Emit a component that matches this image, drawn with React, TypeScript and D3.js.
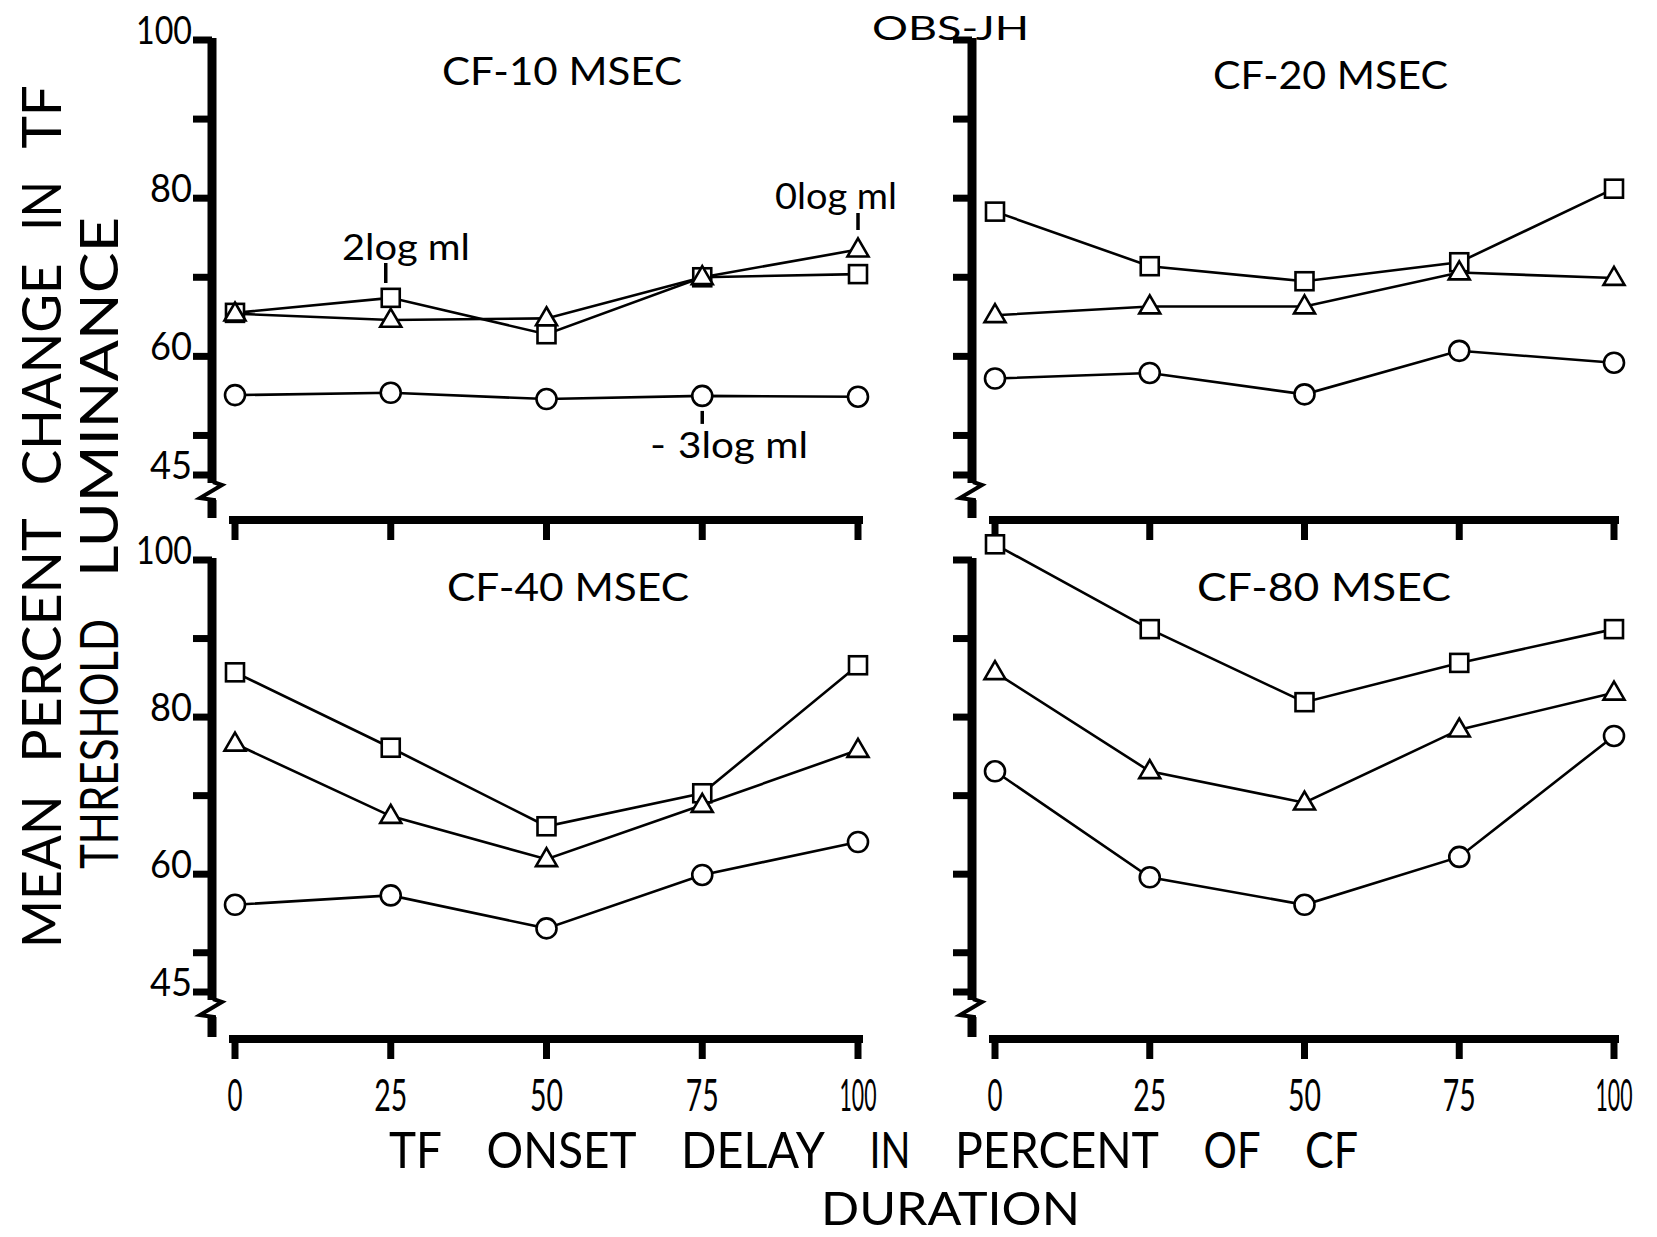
import React from "react";
import * as d3 from "d3";

// ---------- data ----------
const X_VALUES = [0, 25, 50, 75, 100];
const X_TICK_LABELS = ["0", "25", "50", "75", "100"];
const Y_TICKS = [100, 90, 80, 70, 60, 50, 45];
const Y_TICK_LABELS = [100, 80, 60, 45];
const PANEL_TITLES = ["CF-10 MSEC", "CF-20 MSEC", "CF-40 MSEC", "CF-80 MSEC"];
const X_TITLE_1 = ["TF", "ONSET", "DELAY", "IN", "PERCENT", "OF", "CF"];
const X_TITLE_2 = ["DURATION"];
const Y_TITLE_1 = ["MEAN", "PERCENT", "CHANGE", "IN", "TF"];
const Y_TITLE_2 = ["THRESHOLD", "LUMINANCE"];

// squares = 2 log ml, triangles = 0 log ml, circles = -3 log ml
const cf10Square = [65.5, 67.4, 62.8, 70.0, 70.4];
const cf10Triangle = [65.4, 64.6, 64.8, 70.0, 73.5];
const cf10Circle = [55.1, 55.4, 54.6, 55.0, 54.9];

const cf20Square = [78.3, 71.4, 69.5, 71.9, 81.2];
const cf20Triangle = [65.2, 66.3, 66.3, 70.6, 69.9];
const cf20Circle = [57.2, 57.9, 55.2, 60.7, 59.2];

const cf40Square = [85.7, 76.1, 66.1, 70.3, 86.6];
const cf40Triangle = [76.6, 67.4, 61.9, 68.8, 75.8];
const cf40Circle = [56.1, 57.3, 53.1, 59.9, 64.1];

const cf80Square = [102.0, 91.2, 81.9, 86.9, 91.2];
const cf80Triangle = [85.7, 73.1, 69.1, 78.4, 83.1];
const cf80Circle = [73.1, 59.6, 56.1, 62.2, 77.6];

const PANEL_DATA = [
  { square: cf10Square, triangle: cf10Triangle, circle: cf10Circle },
  { square: cf20Square, triangle: cf20Triangle, circle: cf20Circle },
  { square: cf40Square, triangle: cf40Triangle, circle: cf40Circle },
  { square: cf80Square, triangle: cf80Triangle, circle: cf80Circle },
];

// ---------- layout ----------
const W = 1657;
const H = 1237;
const FONT = "Lato, 'Open Sans', sans-serif";

type PanelGeom = {
  xRange: [number, number];
  yRange: [number, number];
  axisX: number;
  barY: number;
  title: { x: number; y: number; len: number };
  leftLabels: boolean;
  bottomLabels: boolean;
};

const GEOMS: PanelGeom[] = [
  { xRange: [235, 858], yRange: [475, 40], axisX: 212, barY: 520, title: { x: 442, y: 85, len: 240 }, leftLabels: true, bottomLabels: false },
  { xRange: [995, 1614], yRange: [475, 40], axisX: 972, barY: 520, title: { x: 1213, y: 89, len: 235 }, leftLabels: false, bottomLabels: false },
  { xRange: [235, 858], yRange: [992, 560], axisX: 212, barY: 1039, title: { x: 447, y: 601, len: 242 }, leftLabels: true, bottomLabels: true },
  { xRange: [995, 1614], yRange: [992, 560], axisX: 972, barY: 1039, title: { x: 1197, y: 601, len: 254 }, leftLabels: false, bottomLabels: true },
];

const LBL_W: Record<string, number> = { "100": 56, "80": 42, "60": 42, "45": 42 };
const XL_W: Record<string, number> = { "0": 15, "25": 33, "50": 33, "75": 33, "100": 37 };

// condensed letter width model (px at cap height ~37)
const LETTER_W: Record<string, number> = {
  M: 34, W: 34, O: 30, Q: 30, G: 28, N: 28, H: 28, D: 28, A: 28, U: 28, C: 26, R: 26, T: 26, Y: 26, V: 26,
  S: 24, P: 24, B: 24, E: 22, F: 22, L: 20, I: 8, J: 18, K: 26, X: 26, Z: 24,
};
const wordWidth = (w: string, k: number) =>
  k * (w.split("").reduce((s, c) => s + (LETTER_W[c] || 24), 0) + 5 * (w.length - 1));

// lay words out between start and end with equal gaps
function layoutWords(words: string[], start: number, end: number, k: number) {
  const ws = words.map((w) => wordWidth(w, k));
  const total = ws.reduce((a, b) => a + b, 0);
  const gap = words.length > 1 ? (end - start - total) / (words.length - 1) : 0;
  let pos = start;
  return words.map((w, i) => {
    const r = { word: w, pos, len: ws[i] };
    pos += ws[i] + gap;
    return r;
  });
}

function Panel({ idx }: { idx: number }) {
  const g = GEOMS[idx];
  const data = PANEL_DATA[idx];
  const x = d3.scaleLinear().domain([0, 100]).range(g.xRange);
  const y = d3.scaleLinear().domain([45, 100]).range(g.yRange);
  const line = d3
    .line<number>()
    .x((_, i) => x(X_VALUES[i]))
    .y((v) => y(v));

  const y45 = y(45);
  const ax = g.axisX;
  const axisTop = y(100) - 2;
  const zigTop = y45 + 8;
  const zigBot = y45 + 26;

  const sq = 18;
  const tri = (cx: number, cy: number) => {
    const s = 21;
    const h = 18;
    return `M${cx},${cy - h * 0.62} L${cx + s / 2},${cy + h * 0.38} L${cx - s / 2},${cy + h * 0.38} Z`;
  };

  return (
    <g>
      {/* y axis */}
      <line x1={ax} x2={ax} y1={axisTop} y2={zigTop} stroke="#000" strokeWidth={9} />
      <path
        d={`M${ax + 1},${zigTop - 1} L${ax + 10},${zigTop + 2} L${ax - 12},${zigTop + 15} L${ax + 2},${zigTop + 17} L${ax + 2},${zigBot}`}
        fill="none"
        stroke="#000"
        strokeWidth={4}
      />
      <line x1={ax} x2={ax} y1={zigBot - 1} y2={g.barY - 2} stroke="#000" strokeWidth={9} />
      {Y_TICKS.map((t) => (
        <line key={t} x1={ax - 19} x2={ax} y1={y(t)} y2={y(t)} stroke="#000" strokeWidth={7} />
      ))}
      {g.leftLabels &&
        Y_TICK_LABELS.map((t) => (
          <text
            key={t}
            x={ax - 20}
            y={y(t) + 4}
            textAnchor="end"
            fontFamily={FONT}
            fontSize={38}
            textLength={LBL_W[String(t)]}
            lengthAdjust="spacingAndGlyphs"
          >
            {t}
          </text>
        ))}

      {/* x axis bar */}
      <line x1={x(0) - 6} x2={x(100) + 5} y1={g.barY} y2={g.barY} stroke="#000" strokeWidth={8} />
      {X_VALUES.map((v) => (
        <line key={v} x1={x(v)} x2={x(v)} y1={g.barY} y2={g.barY + 20} stroke="#000" strokeWidth={7} />
      ))}
      {g.bottomLabels &&
        X_VALUES.map((v, i) => {
          const lab = X_TICK_LABELS[i];
          const natural = lab.length * 0.58 * 44;
          const sx = XL_W[lab] / natural;
          return (
            <text
              key={v}
              transform={`translate(${x(v)},${g.barY + 72}) scale(${sx},1)`}
              textAnchor="middle"
              fontFamily={FONT}
              fontSize={44}
            >
              {lab}
            </text>
          );
        })}

      {/* title */}
      <text
        x={g.title.x}
        y={g.title.y}
        fontFamily={FONT}
        fontSize={39}
        textLength={g.title.len}
        lengthAdjust="spacingAndGlyphs"
      >
        {PANEL_TITLES[idx]}
      </text>

      {/* lines */}
      {[data.square, data.triangle, data.circle].map((s, k) => (
        <path key={k} d={line(s) || ""} fill="none" stroke="#000" strokeWidth={2.6} />
      ))}

      {/* markers */}
      {data.circle.map((v, i) => (
        <circle key={"c" + i} cx={x(X_VALUES[i])} cy={y(v)} r={10} fill="#fff" stroke="#000" strokeWidth={2.6} />
      ))}
      {data.square.map((v, i) => (
        <rect
          key={"s" + i}
          x={x(X_VALUES[i]) - sq / 2}
          y={y(v) - sq / 2}
          width={sq}
          height={sq}
          fill="#fff"
          stroke="#000"
          strokeWidth={2.6}
        />
      ))}
      {data.triangle.map((v, i) => (
        <path key={"t" + i} d={tri(x(X_VALUES[i]), y(v))} fill="#fff" stroke="#000" strokeWidth={2.6} />
      ))}
    </g>
  );
}

export default function App() {
  const xl = d3.scaleLinear().domain([0, 100]).range(GEOMS[0].xRange);
  const yt = d3.scaleLinear().domain([45, 100]).range(GEOMS[0].yRange);

  const xt1 = layoutWords(X_TITLE_1, 389, 1358, 1.0);
  const xt2 = layoutWords(X_TITLE_2, 821, 1080, 1.0);
  // rotated titles: positions measured upward from the bottom end
  const yt1 = layoutWords(Y_TITLE_1, 0, 863, 1.2);
  const yt2 = [
    { word: Y_TITLE_2[0], pos: 0, len: 250 },
    { word: Y_TITLE_2[1], pos: 292, len: 360 },
  ];

  return (
    <svg width={W} height={H} viewBox={`0 0 ${W} ${H}`} style={{ display: "block", position: "absolute", left: 0, top: 0, background: "#fff" }}>
      <rect x={0} y={0} width={W} height={H} fill="#fff" />
      {[0, 1, 2, 3].map((i) => (
        <Panel key={i} idx={i} />
      ))}

      {/* observer label */}
      <text x={872} y={40} fontFamily={FONT} fontSize={33} textLength={157} lengthAdjust="spacingAndGlyphs">
        OBS-JH
      </text>

      {/* series annotations in CF-10 panel */}
      <text x={342} y={260} fontFamily={FONT} fontSize={37} textLength={128} lengthAdjust="spacingAndGlyphs">
        2log ml
      </text>
      <line x1={xl(25) - 5} x2={xl(25) - 5} y1={263} y2={283} stroke="#000" strokeWidth={3.5} />
      <text x={775} y={209} fontFamily={FONT} fontSize={37} textLength={122} lengthAdjust="spacingAndGlyphs">
        0log ml
      </text>
      <line x1={xl(100)} x2={xl(100)} y1={213} y2={230} stroke="#000" strokeWidth={3.5} />
      <line x1={xl(75)} x2={xl(75)} y1={yt(55) + 15} y2={yt(55) + 28} stroke="#000" strokeWidth={3.5} />
      <text x={650} y={458} fontFamily={FONT} fontSize={37} textLength={16} lengthAdjust="spacingAndGlyphs">
        -
      </text>
      <text x={678} y={458} fontFamily={FONT} fontSize={37} textLength={130} lengthAdjust="spacingAndGlyphs">
        3log ml
      </text>

      {/* y axis title, two rotated lines */}
      <g transform="translate(61,948) rotate(-90)">
        {yt1.map((w) => (
          <text key={w.word + w.pos} x={w.pos} y={0} fontFamily={FONT} fontSize={54} textLength={w.len} lengthAdjust="spacingAndGlyphs">
            {w.word}
          </text>
        ))}
      </g>
      <g transform="translate(118,869) rotate(-90)">
        {yt2.map((w) => (
          <text key={w.word} x={w.pos} y={0} fontFamily={FONT} fontSize={52} textLength={w.len} lengthAdjust="spacingAndGlyphs">
            {w.word}
          </text>
        ))}
      </g>

      {/* x axis title */}
      {xt1.map((w) => (
        <text key={w.word + w.pos} x={w.pos} y={1168} fontFamily={FONT} fontSize={51} textLength={w.len} lengthAdjust="spacingAndGlyphs">
          {w.word}
        </text>
      ))}
      {xt2.map((w) => (
        <text key={w.word} x={w.pos} y={1225} fontFamily={FONT} fontSize={46} textLength={259} lengthAdjust="spacingAndGlyphs">
          {w.word}
        </text>
      ))}
    </svg>
  );
}
